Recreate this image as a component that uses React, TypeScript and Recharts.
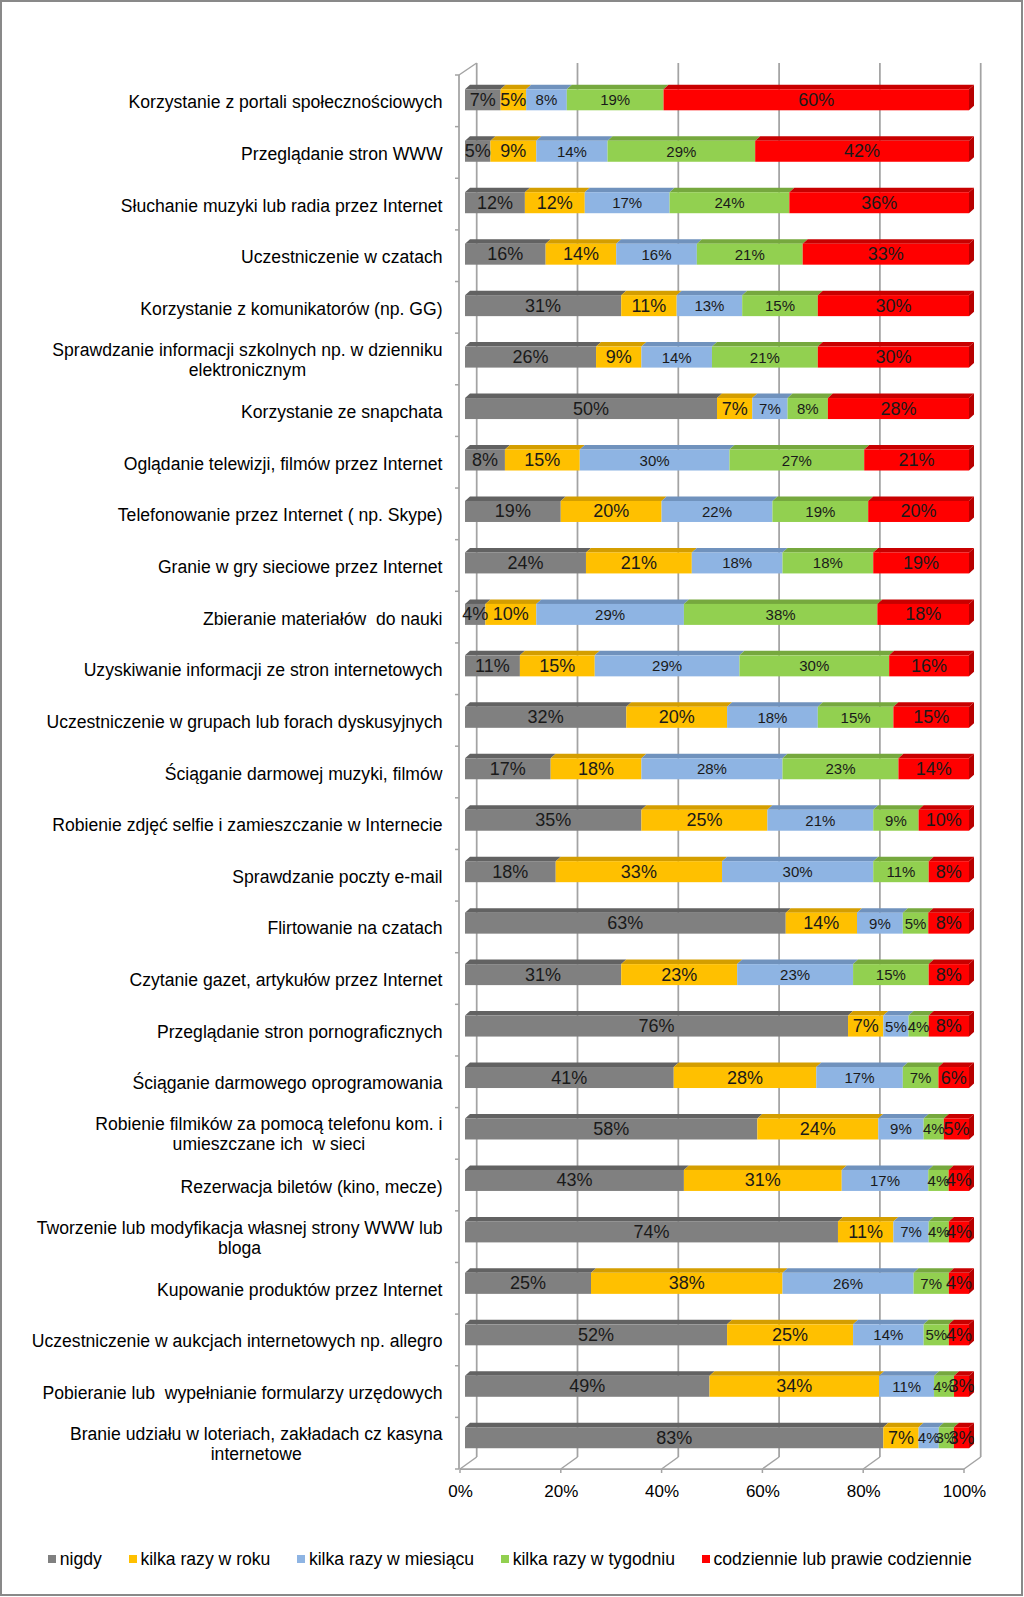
import React from 'react';
import { BarChart, Bar, XAxis, YAxis, CartesianGrid, Legend, LabelList } from 'recharts';

const categories = [
  'Korzystanie z portali społecznościowych',
  'Przeglądanie stron WWW',
  'Słuchanie muzyki lub radia przez Internet',
  'Uczestniczenie w czatach',
  'Korzystanie z komunikatorów (np. GG)',
  'Sprawdzanie informacji szkolnych np. w dzienniku elektronicznym',
  'Korzystanie ze snapchata',
  'Oglądanie telewizji, filmów przez Internet',
  'Telefonowanie przez Internet ( np. Skype)',
  'Granie w gry sieciowe przez Internet',
  'Zbieranie materiałów  do nauki',
  'Uzyskiwanie informacji ze stron internetowych',
  'Uczestniczenie w grupach lub forach dyskusyjnych',
  'Ściąganie darmowej muzyki, filmów',
  'Robienie zdjęć selfie i zamieszczanie w Internecie',
  'Sprawdzanie poczty e-mail',
  'Flirtowanie na czatach',
  'Czytanie gazet, artykułów przez Internet',
  'Przeglądanie stron pornograficznych',
  'Ściąganie darmowego oprogramowania',
  'Robienie filmików za pomocą telefonu kom. i umieszczane ich  w sieci',
  'Rezerwacja biletów (kino, mecze)',
  'Tworzenie lub modyfikacja własnej strony WWW lub bloga',
  'Kupowanie produktów przez Internet',
  'Uczestniczenie w aukcjach internetowych np. allegro',
  'Pobieranie lub  wypełnianie formularzy urzędowych',
  'Branie udziału w loteriach, zakładach cz kasyna internetowe',
];

const nigdy = [7, 5, 12, 16, 31, 26, 50, 8, 19, 24, 4, 11, 32, 17, 35, 18, 63, 31, 76, 41, 58, 43, 74, 25, 52, 49, 83];
const kilkaRazyWRoku = [5, 9, 12, 14, 11, 9, 7, 15, 20, 21, 10, 15, 20, 18, 25, 33, 14, 23, 7, 28, 24, 31, 11, 38, 25, 34, 7];
const kilkaRazyWMiesiacu = [8, 14, 17, 16, 13, 14, 7, 30, 22, 18, 29, 29, 18, 28, 21, 30, 9, 23, 5, 17, 9, 17, 7, 26, 14, 11, 4];
const kilkaRazyWTygodniu = [19, 29, 24, 21, 15, 21, 8, 27, 19, 18, 38, 30, 15, 23, 9, 11, 5, 15, 4, 7, 4, 4, 4, 7, 5, 4, 3];
const codziennie = [60, 42, 36, 33, 30, 30, 28, 21, 20, 19, 18, 16, 15, 14, 10, 8, 8, 8, 8, 6, 5, 4, 4, 4, 4, 3, 3];

const seriesNames = [
  'nigdy',
  'kilka razy w roku',
  'kilka razy w miesiącu',
  'kilka razy w tygodniu',
  'codziennie lub prawie codziennie',
];

const xTicks = [0, 0.2, 0.4, 0.6, 0.8, 1];

const data = categories.map((name, i) => ({
  name,
  s0: nigdy[i],
  s1: kilkaRazyWRoku[i],
  s2: kilkaRazyWMiesiacu[i],
  s3: kilkaRazyWTygodniu[i],
  s4: codziennie[i],
}));

const FONT = '"Liberation Sans", Arial, sans-serif';
const GRID = '#a3a3a3';
const W = 1024;
const H = 1597;
const PLOT_TOP = 74.3;
const PLOT_BOTTOM = 1463.7;
const PLOT_LEFT = 465;
const PLOT_RIGHT = 969;
const BAND = (PLOT_BOTTOM - PLOT_TOP) / categories.length;
const FRONT_TOP = 75;
const FRONT_BOTTOM = 1469;
const FRONT_BAND = (FRONT_BOTTOM - FRONT_TOP) / categories.length;
const LABEL_RIGHT = 442.5;
const WALL_X = 459;
const DX = 5;
const DY = 4.5;

const styles = [
  { front: '#808080', top: '#626262', side: '#5a5a5a', fs: 18 },
  { front: '#FFC000', top: '#D49E00', side: '#C99600', fs: 18 },
  { front: '#8EB4E3', top: '#7092BD', side: '#6689b3', fs: 15 },
  { front: '#92D050', top: '#76A83E', side: '#6e9e38', fs: 15 },
  { front: '#FF0000', top: '#C80000', side: '#B80000', fs: 18 },
];

function make3D(idx: number) {
  const st = styles[idx];
  const isLast = idx === styles.length - 1;
  return (p: any) => {
    const { x, y, width: w, height: h } = p;
    if (w == null || !(w > 0)) return <g />;
    return (
      <g>
        <polygon points={`${x},${y} ${x + DX},${y - DY} ${x + w + DX},${y - DY} ${x + w},${y}`} fill={st.top} />
        <rect x={x} y={y} width={w} height={h} fill={st.front} />
        {isLast && (
          <polygon
            points={`${x + w},${y} ${x + w + DX},${y - DY} ${x + w + DX},${y + h - DY} ${x + w},${y + h}`}
            fill={st.side}
          />
        )}
      </g>
    );
  };
}

function makeLabel(idx: number) {
  const fs = styles[idx].fs;
  return (p: any) => {
    const vb = p.viewBox && p.viewBox.width != null ? p.viewBox : p;
    const { x, y, width, height } = vb;
    if (p.value == null || x == null) return null;
    return (
      <text
        x={x + width / 2}
        y={y + height / 2}
        textAnchor="middle"
        dominantBaseline="central"
        fontFamily={FONT}
        fontSize={fs}
        fill="#1a1a1a"
      >
        {`${p.value}%`}
      </text>
    );
  };
}

let ctx: CanvasRenderingContext2D | null = null;
function measure(t: string) {
  if (!ctx) {
    const c = document.createElement('canvas');
    ctx = c.getContext('2d');
  }
  if (!ctx) return t.length * 8;
  ctx.font = `17.6px "Liberation Sans"`;
  return ctx.measureText(t).width;
}

function wrap(text: string, max: number) {
  const words = text.split(' ');
  const lines: string[] = [];
  let line = '';
  words.forEach((wd) => {
    const cand = line === '' ? wd : line + ' ' + wd;
    if (line !== '' && wd !== '' && measure(cand) > max) {
      lines.push(line.trimEnd());
      line = wd;
    } else {
      line = cand;
    }
  });
  if (line) lines.push(line);
  return lines;
}

const YTick = (p: any) => {
  const { y, payload, index } = p;
  const i = typeof index === 'number' ? index : 0;
  // front-plane position of this category (3D projection of the band centre)
  const yf = y + (FRONT_TOP - PLOT_TOP) + (i + 0.5) * (FRONT_BAND - BAND);
  const lines = wrap(String(payload.value), 440);
  const widths = lines.map((l) => measure(l));
  const bw = Math.max(...widths);
  const cx = LABEL_RIGHT - bw / 2;
  const base0 = lines.length > 1 ? yf - 3 - (lines.length - 2) * 10 : yf + 7.5;
  const tb = yf - FRONT_BAND / 2;
  const last = i === categories.length - 1;
  return (
    <g>
      <line x1={WALL_X - 4} y1={tb} x2={WALL_X} y2={tb} stroke={GRID} strokeWidth={1.5} />
      {last && (
        <line x1={WALL_X - 4} y1={yf + FRONT_BAND / 2} x2={WALL_X} y2={yf + FRONT_BAND / 2} stroke={GRID} strokeWidth={1.5} />
      )}
      <text fontFamily={FONT} fontSize={17.6} fill="#000" textAnchor="middle" style={{ whiteSpace: 'pre' }}>
        {lines.map((l, k) => (
          <tspan key={k} x={cx} y={base0 + k * 20}>
            {l}
          </tspan>
        ))}
      </text>
    </g>
  );
};

const XTick = (p: any) => {
  const { x, y, payload } = p;
  return (
    <text
      x={x - 4.5}
      y={y + 20}
      textAnchor="middle"
      dominantBaseline="central"
      fontFamily={FONT}
      fontSize={17}
      fill="#000"
    >
      {`${Math.round(payload.value * 100)}%`}
    </text>
  );
};

const renderV = (p: any) => {
  const { x1, y1, y2, index } = p;
  const bx = x1 + 11.7;
  const fx = x1 - 5;
  const top = y1 - 11.3;
  const backBot = y2 - 6.7;
  const frontBot = y2 + 5.3;
  const isFirst = Math.abs(x1 - PLOT_LEFT) < 1;
  return (
    <g key={`vg-${index}`}>
      <line x1={bx} y1={top} x2={bx} y2={backBot} stroke={GRID} strokeWidth={1.75} />
      <line x1={fx} y1={frontBot} x2={bx} y2={backBot} stroke={GRID} strokeWidth={1.5} />
      <line x1={fx} y1={frontBot} x2={fx} y2={frontBot + 4} stroke={GRID} strokeWidth={1.5} />
      {isFirst && (
        <g>
          <line x1={WALL_X} y1={y1 + 0.7} x2={WALL_X} y2={frontBot} stroke={GRID} strokeWidth={1.75} />
          <line x1={WALL_X} y1={y1 + 0.7} x2={bx} y2={top} stroke={GRID} strokeWidth={1.5} />
        </g>
      )}
    </g>
  );
};

const LegendContent = (props: any) => {
  const payload = [...(props.payload || [])].sort((a: any, b: any) =>
    String(a.dataKey).localeCompare(String(b.dataKey))
  );
  return (
    <div
      style={{
        display: 'flex',
        justifyContent: 'center',
        alignItems: 'center',
        fontFamily: FONT,
        fontSize: 17.6,
        lineHeight: '24px',
        color: '#000',
        whiteSpace: 'nowrap',
        paddingRight: 4,
      }}
    >
      {payload.map((e: any, i: number) => (
        <div
          key={i}
          style={{ display: 'flex', alignItems: 'center', marginRight: i < payload.length - 1 ? 27 : 0 }}
        >
          <span
            style={{ width: 8, height: 8, background: e.color, display: 'inline-block', marginRight: 3.5 }}
          />
          <span>{e.value}</span>
        </div>
      ))}
    </div>
  );
};

export default function App() {
  return (
    <div style={{ position: 'absolute', left: 0, top: 0, width: W, height: H, background: '#fff' }}>
      <div
        style={{
          position: 'absolute',
          left: 0,
          top: 0,
          width: 1023,
          height: 1596,
          border: '2px solid #898989',
          boxSizing: 'border-box',
        }}
      />
      <div style={{ position: 'absolute', left: 0, top: 0 }}>
        <BarChart
          width={W}
          height={H}
          data={data}
          layout="vertical"
          stackOffset="expand"
          barSize={21}
          margin={{ top: PLOT_TOP, right: W - PLOT_RIGHT, bottom: H - PLOT_BOTTOM - 30, left: 0 }}
        >
          <CartesianGrid horizontal={false} vertical={renderV} />
          <XAxis
            type="number"
            domain={[0, 1]}
            ticks={xTicks}
            height={30}
            tickLine={false}
            tick={XTick}
            axisLine={{ stroke: GRID, strokeWidth: 1.75, transform: 'translate(-5 5.3)' }}
          />
          <YAxis
            type="category"
            dataKey="name"
            width={PLOT_LEFT}
            interval={0}
            tickLine={false}
            axisLine={false}
            tick={YTick}
          />
          <Legend
            layout="horizontal"
            verticalAlign="middle"
            align="center"
            itemSorter={(item: any) => String(item.dataKey)}
            content={LegendContent}
            wrapperStyle={{ left: 0, top: 1547, width: W }}
          />
          {seriesNames.map((nm, i) => (
            <Bar
              key={nm}
              dataKey={`s${i}`}
              name={nm}
              stackId="a"
              fill={styles[i].front}
              shape={make3D(i)}
              isAnimationActive={false}
            >
              <LabelList dataKey={`s${i}`} content={makeLabel(i)} />
            </Bar>
          ))}
        </BarChart>
      </div>
    </div>
  );
}
